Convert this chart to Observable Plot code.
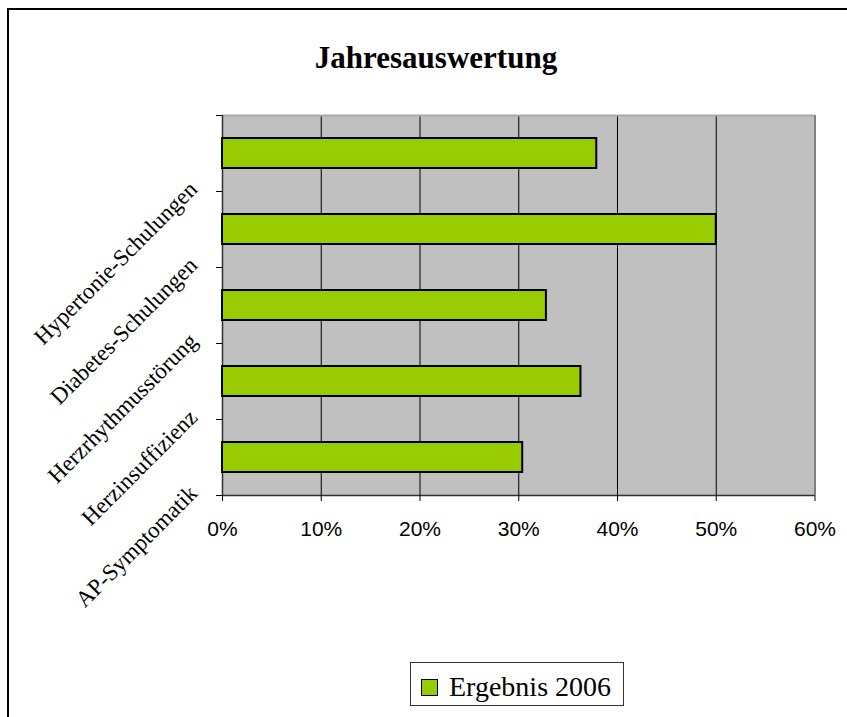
<!DOCTYPE html>
<html>
<head>
<meta charset="utf-8">
<script src="https://cdn.jsdelivr.net/npm/d3@7"></script>
<script src="https://cdn.jsdelivr.net/npm/@observablehq/plot@0.6"></script>
<style>
  body { margin: 0; background: #fff; }
  #wrap { position: relative; width: 847px; height: 717px; overflow: hidden; }
  #border { position: absolute; left: 7px; top: 8px; width: 900px; height: 800px;
            border-left: 2px solid #000; border-top: 2px solid #000; }
  #title { position: absolute; left: 0; width: 872px; top: 42px; text-align: center;
           font: bold 31px "Liberation Serif", serif; line-height: 31px; color: #000; }
  #chart { position: absolute; left: 0; top: 0; }
  #legend { position: absolute; left: 410px; top: 662px; width: 214px; height: 44px;
            border: 1px solid #333; background: #fff; box-sizing: border-box; }
  #legend .sw { position: absolute; left: 10px; top: 16px; width: 17px; height: 17px;
                box-sizing: border-box; border: 1.5px solid #000; }
  #legend .lb { position: absolute; left: 38px; top: 10px; font: 28px "Liberation Serif", serif;
                line-height: 28px; white-space: nowrap; color: #000; }
</style>
</head>
<body>
<div id="wrap">
  <div id="chart"></div>
  <div id="border"></div>
  <div id="title"></div>
  <div id="legend"><div class="sw"></div><div class="lb"></div></div>
</div>
<script>
const titleText = "Jahresauswertung";
const categories = ["Hypertonie-Schulungen", "Diabetes-Schulungen", "Herzrhythmusstörung", "Herzinsuffizienz", "AP-Symptomatik"];
const values = [0.379, 0.50, 0.328, 0.363, 0.304];
const xTicks = [0, 0.1, 0.2, 0.3, 0.4, 0.5, 0.6];
const seriesName = "Ergebnis 2006";
const barColor = "#99CC00";

const data = categories.map((c, i) => ({category: c, value: values[i]}));

const W = 847, H = 717, mL = 222, mR = 32.5, mT = 115, mB = 222;
const half = (H - mT - mB) / categories.length / 2;

const chart = Plot.plot({
  width: W, height: H,
  marginLeft: mL, marginRight: mR, marginTop: mT, marginBottom: mB,
  style: {background: "transparent", overflow: "visible"},
  x: {domain: [0, 0.6]},
  y: {domain: categories, paddingInner: 0.6, paddingOuter: 0.3},
  marks: [
    Plot.frame({fill: "#C0C0C0", stroke: "none"}),
    Plot.ruleX(xTicks.slice(1, -1), {stroke: "#000", strokeWidth: 1}),
    Plot.ruleX([0.6], {stroke: "#808080", strokeWidth: 2}),
    Plot.tickY([categories[0]], {dy: -half, stroke: "#a8a8a8", strokeWidth: 2}),
    Plot.ruleX([0], {stroke: "#333", strokeWidth: 1.5}),
    Plot.tickY([categories[categories.length - 1]], {dy: half, stroke: "#333", strokeWidth: 1.5}),
    Plot.barX(data, {x: "value", y: "category", fill: barColor, stroke: "#000", strokeWidth: 2}),
    Plot.axisX(xTicks, {anchor: "bottom", tickSize: 6, tickPadding: 20, tickFormat: d3.format(".0%"),
      fontSize: 21, fontFamily: "Liberation Sans", label: null}),
    Plot.axisY({tickSize: 6, tickFormat: () => "", dy: -half, label: null}),
    Plot.axisY({tickSize: 6, tickFormat: () => "", dy: half, label: null}),
    Plot.axisY({tickSize: 0, tickPadding: 29, tickRotate: -45, dy: half - 6,
      fontSize: 23, fontFamily: "Liberation Serif", label: null})
  ]
});
document.getElementById("chart").appendChild(chart);
document.getElementById("title").textContent = titleText;
document.querySelector("#legend .sw").style.background = barColor;
document.querySelector("#legend .lb").textContent = seriesName;
</script>
</body>
</html>
